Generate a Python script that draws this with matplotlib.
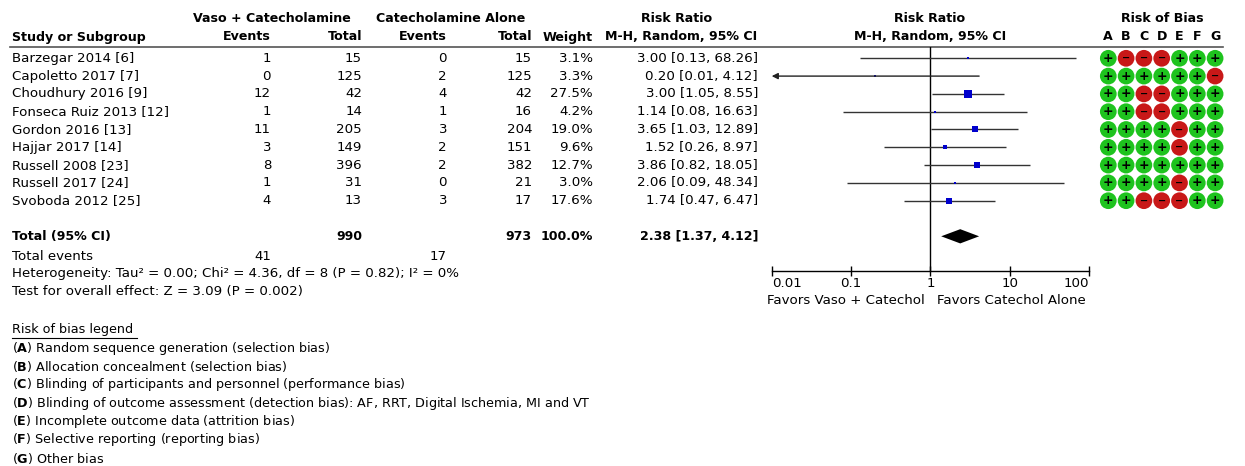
import numpy as np
import matplotlib
matplotlib.use("Agg")
import matplotlib.pyplot as plt

# Дані з рисунка
studies = ["Barzegar 2014 [6]", "Capoletto 2017 [7]", "Choudhury 2016 [9]",
           "Fonseca Ruiz 2013 [12]", "Gordon 2016 [13]", "Hajjar 2017 [14]",
           "Russell 2008 [23]", "Russell 2017 [24]", "Svoboda 2012 [25]"]
vaso_events = [1, 0, 12, 1, 11, 3, 8, 1, 4]
vaso_total = [15, 125, 42, 14, 205, 149, 396, 31, 13]
cat_events = [0, 2, 4, 1, 3, 2, 2, 0, 3]
cat_total = [15, 125, 42, 16, 204, 151, 382, 21, 17]
weight = [3.1, 3.3, 27.5, 4.2, 19.0, 9.6, 12.7, 3.0, 17.6]
rr = [3.00, 0.20, 3.00, 1.14, 3.65, 1.52, 3.86, 2.06, 1.74]
ci_low = [0.13, 0.01, 1.05, 0.08, 1.03, 0.26, 0.82, 0.09, 0.47]
ci_high = [68.26, 4.12, 8.55, 16.63, 12.89, 8.97, 18.05, 48.34, 6.47]
rob = ["+---+++", "++++++-", "++--+++", "++--+++", "++++-++",
       "++++-++", "+++++++", "++++-++", "++---++"]
rob_letters = list("ABCDEFG")

total_vaso, total_cat = 990, 973
events_vaso, events_cat = 41, 17
pooled = (2.38, 1.37, 4.12)
x_ticks = [0.01, 0.1, 1, 10, 100]
tick_labels = ["0.01", "0.1", "1", "10", "100"]

legend_items = ["Random sequence generation (selection bias)",
                "Allocation concealment (selection bias)",
                "Blinding of participants and personnel (performance bias)",
                "Blinding of outcome assessment (detection bias): AF, RRT, Digital Ischemia, MI and VT",
                "Incomplete outcome data (attrition bias)",
                "Selective reporting (reporting bias)",
                "Other bias"]

W, H = 1245, 466
ROW0, DY = 58.3, 17.8
FS = 9.6      # звичайний текст
FSB = 9.1     # жирний текст
FSL = 9.2     # легенда
GREEN, RED, BLUE = "#1ec31e", "#c81818", "#0000cc"


def row_y(i):
    return ROW0 + DY * i


def frac(px_left, px_top, px_right, px_bottom):
    return [px_left / W, 1 - px_bottom / H, (px_right - px_left) / W, (px_bottom - px_top) / H]


fig = plt.figure(figsize=(W / 100, H / 100), dpi=100)

# базові осі в пікселях для таблиці
base = fig.add_axes([0, 0, 1, 1])
base.set_xlim(0, W)
base.set_ylim(H, 0)
base.axis("off")


def txt(x, y, s, ha="left", bold=False, size=None, **kw):
    if size is None:
        size = FSB if bold else FS
    base.text(x, y, s, ha=ha, va="center", fontsize=size,
              fontweight="bold" if bold else "normal", **kw)


# заголовки
txt(272, 18, "Vaso + Catecholamine", ha="center", bold=True)
txt(451, 18, "Catecholamine Alone", ha="center", bold=True)
txt(677, 18, "Risk Ratio", ha="center", bold=True)
txt(930, 18, "Risk Ratio", ha="center", bold=True)
txt(1162, 18, "Risk of Bias", ha="center", bold=True)
txt(12, 37, "Study or Subgroup", bold=True)
txt(271, 37, "Events", ha="right", bold=True)
txt(362, 37, "Total", ha="right", bold=True)
txt(447, 37, "Events", ha="right", bold=True)
txt(532, 37, "Total", ha="right", bold=True)
txt(593, 37, "Weight", ha="right", bold=True)
txt(757, 37, "M-H, Random, 95% CI", ha="right", bold=True)
txt(930, 37, "M-H, Random, 95% CI", ha="center", bold=True)
base.plot([10, 1223], [47, 47], color="#555555", lw=1.2)

# рядки досліджень
for i, name in enumerate(studies):
    y = row_y(i)
    txt(12, y, name)
    txt(271, y, str(vaso_events[i]), ha="right")
    txt(362, y, str(vaso_total[i]), ha="right")
    txt(447, y, str(cat_events[i]), ha="right")
    txt(532, y, str(cat_total[i]), ha="right")
    txt(593, y, f"{weight[i]:.1f}%", ha="right")
    txt(758, y, f"{rr[i]:.2f} [{ci_low[i]:.2f}, {ci_high[i]:.2f}]", ha="right")

# підсумки
yt = row_y(10)
txt(12, yt, "Total (95% CI)", bold=True)
txt(362, yt, str(total_vaso), ha="right", bold=True)
txt(532, yt, str(total_cat), ha="right", bold=True)
txt(593, yt, f"{sum(weight):.1f}%", ha="right", bold=True)
txt(758, yt, f"{pooled[0]:.2f} [{pooled[1]:.2f}, {pooled[2]:.2f}]", ha="right", bold=True)
txt(12, 256, "Total events")
txt(271, 256, str(events_vaso), ha="right")
txt(447, 256, str(events_cat), ha="right")
txt(12, 274, "Heterogeneity: Tau² = 0.00; Chi² = 4.36, df = 8 (P = 0.82); I² = 0%")
txt(12, 292, "Test for overall effect: Z = 3.09 (P = 0.002)")

# легенда ризику упередженості
txt(12, 330, "Risk of bias legend", size=FSL)
base.plot([12, 137], [337.5, 337.5], color="black", lw=0.8)
for k, item in enumerate(legend_items):
    txt(12, 348.3 + 18.3 * k, r"($\mathbf{" + rob_letters[k] + r"}$) " + item, size=FSL)

txt(925, 300, "Favors Vaso + Catechol", ha="right")
txt(937, 300, "Favors Catechol Alone", ha="left")

# форест-графік
ax = fig.add_axes(frac(771.7, 47, 1089, 270.5))
ax.set_xscale("log")
ax.set_xlim(x_ticks[0], x_ticks[-1])
top_row = (47 - ROW0) / DY
bottom_row = (270.5 - ROW0) / DY
ax.set_ylim(bottom_row, top_row)
ax.patch.set_alpha(0)
for s in ["top", "right", "left"]:
    ax.spines[s].set_visible(False)
ax.spines["bottom"].set_linewidth(1.0)
ax.set_yticks([])
ax.set_xticks(x_ticks)
ax.set_xticklabels(tick_labels, fontsize=FS)
ax.minorticks_off()
ax.tick_params(axis="x", direction="inout", length=7, width=1, pad=1)
lbls = ax.get_xticklabels()
lbls[0].set_ha("left")
lbls[-1].set_ha("right")
ax.axvline(1, color="black", lw=1)

xmin = x_ticks[0]
for i in range(len(studies)):
    lo, hi = ci_low[i], ci_high[i]
    if lo <= xmin:
        ax.annotate("", xy=(xmin, i), xytext=(hi, i),
                    arrowprops=dict(arrowstyle="-|>", mutation_scale=9, lw=1,
                                    color="#222222", shrinkA=0, shrinkB=0))
    else:
        ax.plot([lo, hi], [i, i], color="#333333", lw=1.0, solid_capstyle="butt")
    ax.plot(rr[i], i, marker="s", ms=1.05 * np.sqrt(weight[i]), color=BLUE, mec=BLUE,
            mew=0)

dh = 0.4
ax.fill([pooled[1], pooled[0], pooled[2], pooled[0]],
        [10, 10 - dh, 10, 10 + dh], color="black", lw=0)

# ризик упередженості
rb = fig.add_axes(frac(1095, 47, 1230, 270.5))
rb.set_xlim((1095 - 1108.3) / DY, (1230 - 1108.3) / DY)
rb.set_ylim(bottom_row, top_row)
rb.axis("off")
for i, marks in enumerate(rob):
    for j, m in enumerate(marks):
        c = GREEN if m == "+" else RED
        rb.scatter(j, i, s=145, color=c, edgecolors="none")
        rb.text(j, i, "+" if m == "+" else "−", ha="center", va="center",
                fontsize=9 if m == "+" else 7, fontweight="bold", color="black")
for j, letter in enumerate(rob_letters):
    rb.text(j, (37 - ROW0) / DY, letter, ha="center", va="center",
            fontsize=FSB, fontweight="bold")

fig.savefig("out.png", dpi=100)
